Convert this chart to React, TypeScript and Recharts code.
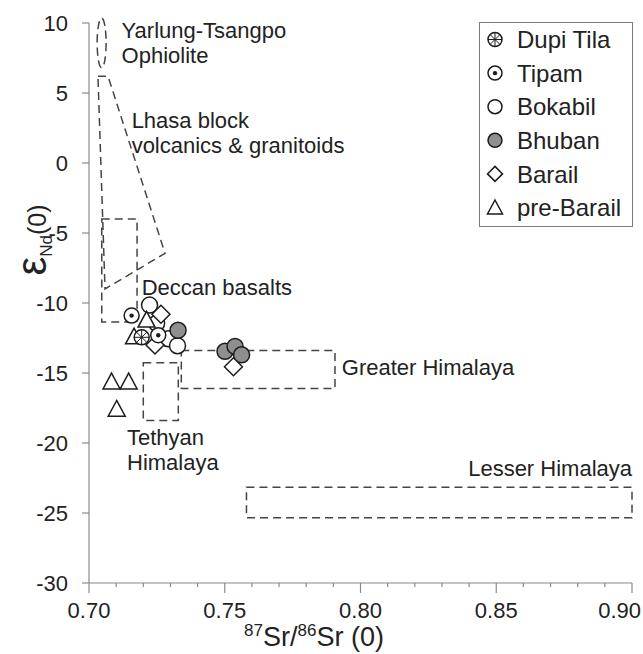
import React from "react";
import {
  ScatterChart,
  Scatter,
  XAxis,
  YAxis,
  ReferenceArea,
  ReferenceDot,
  Legend,
} from "recharts";

// axis ticks
const xTicks = [
  0.7, 0.71, 0.72, 0.73, 0.74, 0.75, 0.76, 0.77, 0.78, 0.79, 0.8, 0.81, 0.82,
  0.83, 0.84, 0.85, 0.86, 0.87, 0.88, 0.89, 0.9,
];
const yTicks = [10, 5, 0, -5, -10, -15, -20, -25, -30];

// samples (87Sr/86Sr, eNd)
const dupiTila = [{ x: 0.7194, y: -12.45 }];
const tipam = [
  { x: 0.7157, y: -10.9 },
  { x: 0.7255, y: -12.3 },
];
const bokabil = [
  { x: 0.7223, y: -10.15 },
  { x: 0.7249, y: -11.45 },
  { x: 0.7292, y: -12.55 },
  { x: 0.7326, y: -13.05 },
];
const bhuban = [
  { x: 0.7328, y: -11.95 },
  { x: 0.7501, y: -13.45 },
  { x: 0.7538, y: -13.1 },
  { x: 0.7562, y: -13.7 },
];
const barail = [
  { x: 0.7265, y: -10.8 },
  { x: 0.7243, y: -13.0 },
  { x: 0.7532, y: -14.55 },
];
const preBarail = [
  { x: 0.7166, y: -12.4 },
  { x: 0.7212, y: -11.2 },
  { x: 0.7083, y: -15.62 },
  { x: 0.7146, y: -15.62 },
  { x: 0.7102, y: -17.57 },
];

// source fields: [x1, x2, y1, y2]
const yarlungOphiolite = [0.703, 0.7063, 6.8, 10.35];
const deccanBasalts = [0.7047, 0.7177, -11.35, -4.0];
const greaterHimalaya = [0.734, 0.7906, -16.1, -13.4];
const tethyanHimalaya = [0.72, 0.7329, -18.4, -14.26];
const lesserHimalaya = [0.758, 0.9, -25.34, -23.16];
const lhasaBlock = [
  { x: 0.7033, y: 6.2 },
  { x: 0.707, y: 6.2 },
  { x: 0.728, y: -6.45 },
  { x: 0.7059, y: -9.0 },
  { x: 0.7033, y: 6.2 },
];

const INK = "#1c1c1c";
const AXIS = "#8a8a8a";
const TEXT = "#222";
const DASH = "#444";
const FONT = "'Liberation Sans', Arial, sans-serif";

const dashed = {
  fill: "none",
  fillOpacity: 0,
  stroke: DASH,
  strokeWidth: 1.5,
  strokeDasharray: "8 5",
};

function CircleMark({ cx, cy, fill = "#fff", r = 8 }: any) {
  return <circle cx={cx} cy={cy} r={r} fill={fill} stroke={INK} strokeWidth={1.5} />;
}

function TipamMark({ cx, cy, r = 7.5 }: any) {
  return (
    <g>
      <circle cx={cx} cy={cy} r={r} fill="#fff" stroke={INK} strokeWidth={1.5} />
      <circle cx={cx} cy={cy} r={2.2} fill={INK} />
    </g>
  );
}

function DupiMark({ cx, cy, r = 7.5 }: any) {
  const d = r * 0.7071;
  return (
    <g stroke={INK}>
      <circle cx={cx} cy={cy} r={r} fill="#fff" strokeWidth={1.5} />
      <line x1={cx - r} y1={cy} x2={cx + r} y2={cy} strokeWidth={1} />
      <line x1={cx} y1={cy - r} x2={cx} y2={cy + r} strokeWidth={1} />
      <line x1={cx - d} y1={cy - d} x2={cx + d} y2={cy + d} strokeWidth={1} />
      <line x1={cx - d} y1={cy + d} x2={cx + d} y2={cy - d} strokeWidth={1} />
    </g>
  );
}

function DiamondMark({ cx, cy, s = 9 }: any) {
  return (
    <path
      d={`M${cx},${cy - s}L${cx + s},${cy}L${cx},${cy + s}L${cx - s},${cy}Z`}
      fill="#fff"
      stroke={INK}
      strokeWidth={1.5}
    />
  );
}

function TriangleMark({ cx, cy, s = 8.5 }: any) {
  return (
    <path
      d={`M${cx},${cy - s}L${cx + s},${cy + s * 0.85}L${cx - s},${cy + s * 0.85}Z`}
      fill="#fff"
      stroke={INK}
      strokeWidth={1.5}
    />
  );
}

const seriesList = [
  { name: "Dupi Tila", mark: DupiMark },
  { name: "Tipam", mark: TipamMark },
  { name: "Bokabil", mark: (p: any) => <CircleMark {...p} /> },
  { name: "Bhuban", mark: (p: any) => <CircleMark {...p} fill="#8f8f8f" /> },
  { name: "Barail", mark: DiamondMark },
  { name: "pre-Barail", mark: TriangleMark },
];

function LegendBox() {
  return (
    <svg width={154} height={205} style={{ display: "block" }}>
      <rect x={0.5} y={0.5} width={153} height={204} fill="#fff" stroke="#7a7a7a" />
      {seriesList.map((s, i) => {
        const cy = 17.5 + i * 33.6;
        const M = s.mark;
        return (
          <g key={s.name}>
            <M cx={16} cy={cy} r={7} s={7.5} />
            <text x={38} y={cy} dy="0.36em" fontSize={24} fill={TEXT} fontFamily={FONT}>
              {s.name}
            </text>
          </g>
        );
      })}
    </svg>
  );
}

function XTick({ x, y, payload }: any) {
  const v = payload.value;
  const major = Math.round(v * 100) % 5 === 0;
  const last = v >= 0.9;
  return (
    <g>
      <line x1={x} y1={y} x2={x} y2={y + (major ? 10 : 4)} stroke={AXIS} strokeWidth={1.2} />
      {major && (
        <text
          x={last ? x + 9 : x}
          y={y + 35}
          textAnchor={last ? "end" : "middle"}
          fontSize={22}
          fill={TEXT}
          fontFamily={FONT}
        >
          {v.toFixed(2)}
        </text>
      )}
    </g>
  );
}

function note(lines: string[], anchor: string = "start") {
  return (p: any) => (
    <text
      x={p.cx}
      y={p.cy}
      textAnchor={anchor}
      fontSize={22}
      fill={TEXT}
      fontFamily={FONT}
    >
      {lines.map((l, i) => (
        <tspan key={i} x={p.cx} dy={i === 0 ? "0.36em" : 25}>
          {l}
        </tspan>
      ))}
    </text>
  );
}

function box(b: number[], extra: any = {}) {
  return (
    <ReferenceArea
      x1={b[0]}
      x2={b[1]}
      y1={b[2]}
      y2={b[3]}
      ifOverflow="visible"
      {...dashed}
      {...extra}
    />
  );
}

export default function App() {
  return (
    <div style={{ position: "absolute", left: 0, top: 0, width: 643, height: 654, background: "#fff" }}>
      <ScatterChart
        width={643}
        height={654}
        margin={{ top: 23, right: 11, bottom: 0, left: 0 }}
      >
        <XAxis
          type="number"
          dataKey="x"
          domain={[0.7, 0.9]}
          ticks={xTicks}
          interval={0}
          tickSize={0}
          tickMargin={0}
          tick={<XTick />}
          tickLine={false}
          height={71}
          axisLine={{ stroke: AXIS, strokeWidth: 1.2 }}
          allowDataOverflow
          label={{
            content: () => (
              <text x={314} y={646} textAnchor="middle" fill={TEXT} fontFamily={FONT} fontSize={27}>
                <tspan fontSize={17} dy={-10}>87</tspan>
                <tspan dy={10}>Sr/</tspan>
                <tspan fontSize={17} dy={-10}>86</tspan>
                <tspan dy={10}>Sr (0)</tspan>
              </text>
            ),
          }}
        />
        <YAxis
          type="number"
          dataKey="y"
          domain={[-30, 10]}
          ticks={yTicks}
          interval={0}
          width={89}
          tickSize={7}
          tickMargin={14}
          tick={{ fontSize: 22, fill: TEXT, fontFamily: FONT }}
          tickLine={{ stroke: AXIS, strokeWidth: 1.2 }}
          axisLine={{ stroke: AXIS, strokeWidth: 1.2 }}
          allowDataOverflow
          label={{
            content: () => (
              <text
                transform="rotate(-90, 46, 240)"
                x={46}
                y={240}
                textAnchor="middle"
                fill={TEXT}
                fontFamily={FONT}
              >
                <tspan fontSize={42}>ε</tspan>
                <tspan fontSize={17} dy={6}>Nd</tspan>
                <tspan fontSize={25} dy={-6}>(0)</tspan>
              </text>
            ),
          }}
        />

        {box(yarlungOphiolite, {
          shape: (p: any) => (
            <ellipse
              cx={p.x + p.width / 2}
              cy={p.y + p.height / 2}
              rx={p.width / 2}
              ry={p.height / 2}
              fill="none"
              stroke={DASH}
              strokeWidth={1.5}
              strokeDasharray="8 5"
            />
          ),
        })}
        {box(deccanBasalts)}
        {box(greaterHimalaya)}
        {box(tethyanHimalaya)}
        {box(lesserHimalaya)}

        <Scatter
          name="lhasa"
          data={lhasaBlock}
          line={{ stroke: DASH, strokeWidth: 1.5, strokeDasharray: "8 5" }}
          lineType="joint"
          shape={() => <g />}
          legendType="none"
          isAnimationActive={false}
        />

        <ReferenceDot x={0.712} y={9.5} r={0} ifOverflow="visible" shape={note(["Yarlung-Tsangpo", "Ophiolite"])} />
        <ReferenceDot x={0.7157} y={3.07} r={0} ifOverflow="visible" shape={note(["Lhasa block", "volcanics & granitoids"])} />
        <ReferenceDot x={0.7194} y={-8.86} r={0} ifOverflow="visible" shape={note(["Deccan basalts"])} />
        <ReferenceDot x={0.7931} y={-14.55} r={0} ifOverflow="visible" shape={note(["Greater Himalaya"])} />
        <ReferenceDot x={0.714} y={-19.57} r={0} ifOverflow="visible" shape={note(["Tethyan", "Himalaya"])} />
        <ReferenceDot x={0.9} y={-21.8} r={0} ifOverflow="visible" shape={note(["Lesser Himalaya"], "end")} />

        <Scatter name="Bokabil" data={bokabil} shape={(p: any) => <CircleMark {...p} />} isAnimationActive={false} />
        <Scatter name="Bhuban" data={bhuban} shape={(p: any) => <CircleMark {...p} fill="#8f8f8f" />} isAnimationActive={false} />
        <Scatter name="Barail" data={barail} shape={(p: any) => <DiamondMark {...p} />} isAnimationActive={false} />
        <Scatter name="pre-Barail" data={preBarail} shape={(p: any) => <TriangleMark {...p} />} isAnimationActive={false} />
        <Scatter name="Tipam" data={tipam} shape={(p: any) => <TipamMark {...p} />} isAnimationActive={false} />
        <Scatter name="Dupi Tila" data={dupiTila} shape={(p: any) => <DupiMark {...p} />} isAnimationActive={false} />

        <Legend
          layout="vertical"
          align="center"
          verticalAlign="middle"
          content={() => <LegendBox />}
          wrapperStyle={{ left: 479, top: 22, width: 154, height: 205 }}
        />
      </ScatterChart>
    </div>
  );
}
